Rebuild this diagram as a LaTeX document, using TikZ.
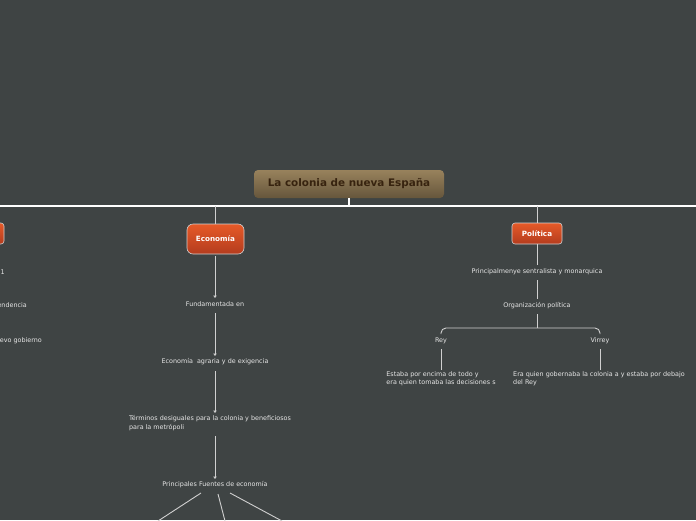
\documentclass[tikz,border=0pt]{standalone}
\usepackage{fontspec}
\setmainfont{DejaVu Sans}
\usetikzlibrary{arrows.meta}
\definecolor{bg}{HTML}{3F4444}
\definecolor{ln}{HTML}{D0D0D0}
\definecolor{tx}{HTML}{E6E6E6}
\tikzset{
  t/.style={text=tx,font=\fontsize{6.4}{8.2}\selectfont,inner sep=1pt,align=left},
  conn/.style={draw=ln,line width=0.9pt},
  arr/.style={conn,-{Triangle[width=3.5pt,length=2.5pt]}},
  main/.style={draw=ln,line width=0.6pt,rounded corners=3pt,top color={rgb,255:red,230;green,90;blue,40},bottom color={rgb,255:red,180;green,60;blue,30},text=white,font=\bfseries\fontsize{7.2}{8}\selectfont}
}
\begin{document}
\begin{tikzpicture}[x=1pt,y=-1pt]
\fill[bg] (0,0) rectangle (696,520);
\useasboundingbox (0,0) rectangle (696,520);
\clip (0,0) rectangle (696,520);
\node[draw=none,rounded corners=4pt,minimum width=190pt,minimum height=28pt,top color={rgb,255:red,152;green,130;blue,92},bottom color={rgb,255:red,102;green,86;blue,60},text={rgb,255:red,55;green,35;blue,15},font=\bfseries\fontsize{10.4}{12}\selectfont] (title) at (349,184) {La colonia de nueva España};
\coordinate (hL) at (0,206); \coordinate (hR) at (696,206); \coordinate (hC) at (349,206);
\draw[draw=white,line width=1.2pt] (hL) -- (hR);
\draw[draw=white,line width=1.2pt] (title.south) -- (hC);
% left node (clipped)
\node[main,minimum width=40pt,minimum height=21pt] (izq) at (-16,233.5) {};
\node[t,anchor=east] (l1) at (6,272) {en 1821};
\node[t,anchor=east] (l2) at (28,306) {Independencia};
\node[t,anchor=east] (l3) at (43,341) {nuevo gobierno};
% Economia
\node[main,rounded corners=6pt,minimum width=57pt,minimum height=30pt] (eco) at (215.5,239) {Economía};
\coordinate (ec) at (215.5,206);
\draw[conn] (ec) -- (eco.north);
\node[t] (f1) at (215,304) {Fundamentada en};
\node[t] (f2) at (215,362) {Economía\ \ agraria y de exigencia};
\node[t] (f3) at (210,423) {Términos desiguales para la colonia y beneficiosos\\para la metrópoli};
\node[t] (f4) at (215,485) {Principales Fuentes de economía};
\coordinate (a0) at (215,256);
\coordinate (a1) at (215,298); \coordinate (b1) at (215,313);
\coordinate (a2) at (215,356); \coordinate (b2) at (215,371);
\coordinate (a3) at (215,413); \coordinate (b3) at (215,436);
\coordinate (a4) at (215,479);
\draw[arr] (a0) -- (a1);
\draw[arr] (b1) -- (a2);
\draw[arr] (b2) -- (a3);
\draw[arr] (b3) -- (a4);
\coordinate (e1) at (158,521); \coordinate (e2) at (225,521); \coordinate (e3) at (282,521);
\draw[conn] (201,493) -- (e1);
\draw[conn] (218,494) -- (e2);
\draw[conn] (230,493) -- (e3);
% Politica
\node[main,minimum width=50pt,minimum height=21pt] (pol) at (537,233.5) {Política};
\coordinate (pc) at (537,206);
\draw[conn] (pc) -- (pol.north);
\node[t] (p1) at (537,272) {Principalmenye sentralista y monarquica};
\node[t] (p2) at (537,306) {Organización política};
\draw[conn] (pol.south) -- (537,265);
\draw[conn] (537,280) -- (537,299);
\node[t] (rey) at (441,341) {Rey};
\node[t] (vir) at (600,341) {Virrey};
\coordinate (br) at (537,328);
\draw[conn] (537,314) -- (br);
\draw[conn,rounded corners=5pt] (441,334) -- (441,328) -- (br) -- (600,328) -- (600,334);
\node[t] (r1) at (441,379) {Estaba por encima de todo y\\era quien tomaba las decisiones s};
\node[t,anchor=west] (v1) at (512,379) {Era quien gobernaba la colonia a y estaba por debajo\\del Rey};
\draw[conn] (441,349) -- (441,370);
\draw[conn] (600,349) -- (600,370);
\end{tikzpicture}
\end{document}
